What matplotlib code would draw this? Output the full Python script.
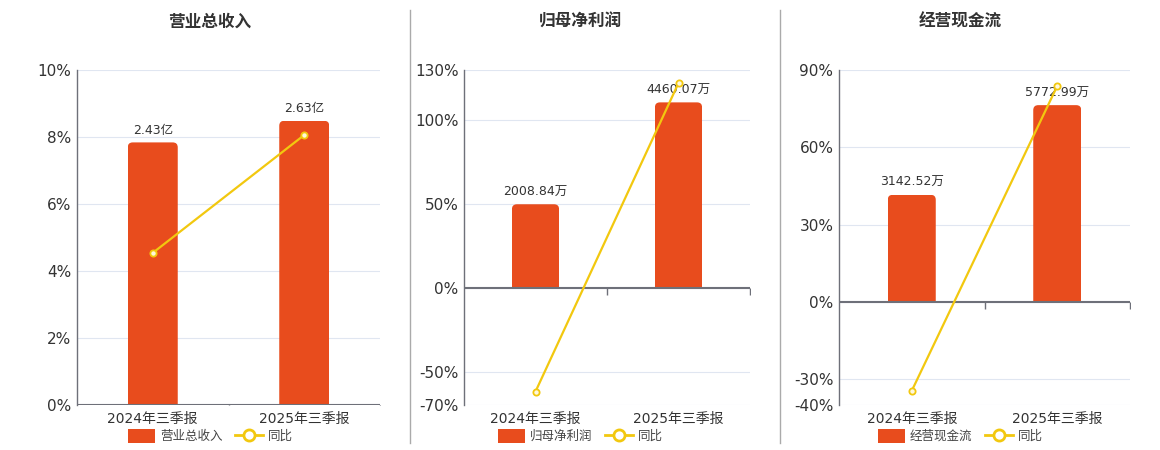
import matplotlib
matplotlib.use("Agg")
import matplotlib.pyplot as plt
from matplotlib.patches import FancyBboxPatch, Rectangle
from matplotlib.lines import Line2D

plt.rcParams['font.family'] = ['DejaVu Sans', 'Noto Sans CJK SC']

categories = ["2024年三季报", "2025年三季报"]

titles = ["营业总收入", "归母净利润", "经营现金流"]
bar_values = [[2.43, 2.63], [2008.84, 4460.07], [3142.52, 5772.99]]
bar_labels = [["2.43亿", "2.63亿"], ["2008.84万", "4460.07万"], ["3142.52万", "5772.99万"]]
yoy = [[4.54, 8.06], [-62.0, 122.2], [-34.5, 83.8]]

pct_limits = [(0, 10), (-70, 130), (-40, 90)]
pct_ticks = [[0, 2, 4, 6, 8, 10], [-70, -50, 0, 50, 100, 130], [-40, -30, 0, 30, 60, 90]]
bar_scale = [0.31, 40.3, 75.6]   # bar units per 1% on the shared vertical scale

BAR_COLOR = "#E84C1D"
LINE_COLOR = "#F2C80F"
AXIS_COLOR = "#6E7079"
GRID_COLOR = "#E0E6F1"
TEXT_COLOR = "#333333"
CJK = ['Noto Sans CJK SC', 'DejaVu Sans']

W, H = 1160, 450
fig = plt.figure(figsize=(W / 100, H / 100), dpi=100)

axes_px = [(77, 380), (464, 750), (839, 1130)]
centers_px = [210, 580, 960]
top_px, bottom_px = 70, 405

for sx in (410, 780):
    fig.add_artist(Line2D([sx / W, sx / W], [1 - 10 / H, 1 - 443 / H],
                          color="#AAAAAA", lw=1))

for i in range(3):
    l, r = axes_px[i]
    ax = fig.add_axes([l / W, 1 - bottom_px / H, (r - l) / W, (bottom_px - top_px) / H])
    lo, hi = pct_limits[i]
    ax.set_ylim(lo, hi)
    ax.set_xlim(-0.5, len(categories) - 0.5)
    ax.set_yticks(pct_ticks[i])
    ax.set_yticklabels(["%d%%" % t for t in pct_ticks[i]])
    ax.set_xticks(range(len(categories)))
    ax.set_xticklabels(categories)
    ax.tick_params(axis='x', length=0, labelsize=10, colors=TEXT_COLOR, pad=5)
    ax.tick_params(axis='y', length=0, labelsize=11, colors=TEXT_COLOR, pad=4)
    for s in ("top", "right", "bottom"):
        ax.spines[s].set_visible(False)
    ax.spines["left"].set_color(AXIS_COLOR)
    ax.spines["left"].set_linewidth(1)
    ax.grid(axis='y', color=GRID_COLOR, lw=0.8)
    ax.set_axisbelow(True)

    # bars on a twin scale aligned with zero
    bx = ax.twinx()
    k = bar_scale[i]
    bx.set_ylim(lo * k, hi * k)
    bx.set_axis_off()
    px_per_x = (r - l) / len(categories)
    px_per_y = (bottom_px - top_px) / ((hi - lo) * k)
    rx = 5 / px_per_x
    ry = 5 / px_per_y
    bars = bx.bar(range(len(categories)), bar_values[i], width=0.33, color=BAR_COLOR)
    for b, lab in zip(bars, bar_labels[i]):
        x0, w, h = b.get_x(), b.get_width(), b.get_height()
        b.set_visible(False)
        patch = FancyBboxPatch((x0, -ry), w, h + ry,
                               boxstyle="round,pad=0,rounding_size=%f" % rx,
                               mutation_aspect=ry / rx, fc=BAR_COLOR, ec="none", zorder=2)
        bx.add_patch(patch)
        patch.set_clip_path(Rectangle((x0, 0), w, h, transform=bx.transData))
        bx.annotate(lab, (x0 + w / 2, h), xytext=(0, 4), textcoords="offset points",
                    ha="center", va="bottom", fontsize=9, color=TEXT_COLOR)

    # zero axis line with category boundary ticks
    bx.axhline(0, color=AXIS_COLOR, lw=1.5, zorder=3)
    bx.plot([j + 0.5 for j in range(len(categories))], [0] * len(categories),
            ls="none", marker=3, ms=5, mew=1, color=AXIS_COLOR, zorder=3)

    # yoy line
    lx = ax.twinx()
    lx.set_ylim(lo, hi)
    lx.set_axis_off()
    lx.plot(range(len(categories)), yoy[i], color=LINE_COLOR, lw=1.6,
            marker="o", ms=4.5, mfc="#FFF8DC", mec=LINE_COLOR, mew=1.3, zorder=4)

    # title
    fig.text(centers_px[i] / W, 1 - 22 / H, titles[i], ha="center", va="center",
             fontsize=12, fontweight="bold", color=TEXT_COLOR, family=CJK)

    # legend
    handles = [FancyBboxPatch((0, 0), 1, 1, boxstyle="round,pad=0,rounding_size=0.2",
                              fc=BAR_COLOR, ec="none"),
               Line2D([], [], color=LINE_COLOR, lw=2, marker="o", ms=8,
                      mfc="white", mec=LINE_COLOR, mew=2)]
    fig.legend(handles, [titles[i], "同比"], loc="center",
               bbox_to_anchor=(centers_px[i] / W, 1 - 436 / H), ncol=2, frameon=False,
               handlelength=2.2, handleheight=1.3, handletextpad=0.4,
               columnspacing=1.0, labelcolor="#444444",
               prop={'family': CJK, 'size': 9})

fig.savefig("out.png", dpi=100)
